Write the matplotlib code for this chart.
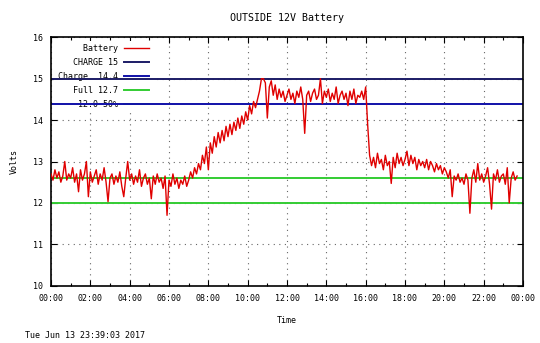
import numpy as np
import matplotlib
matplotlib.use("Agg")
import matplotlib.pyplot as plt
from matplotlib.ticker import MultipleLocator

plt.rcParams["font.family"] = ["DejaVu Sans Mono"]
plt.rcParams["font.size"] = 6

# battery voltage, one reading every 6 minutes from 00:00
battery = [
    12.70, 12.55, 12.80, 12.60, 12.75, 12.50, 12.65, 13.00, 12.55, 12.70,  # 00h
    12.60, 12.85, 12.50, 12.70, 12.27, 12.80, 12.55, 12.70, 13.00, 12.15,  # 01h
    12.75, 12.50, 12.65, 12.80, 12.45, 12.70, 12.55, 12.85, 12.50, 12.03,  # 02h
    12.60, 12.70, 12.45, 12.65, 12.50, 12.75, 12.40, 12.15, 12.60, 13.00,  # 03h
    12.55, 12.70, 12.45, 12.65, 12.50, 12.80, 12.40, 12.60, 12.70, 12.45,  # 04h
    12.60, 12.10, 12.65, 12.45, 12.70, 12.50, 12.60, 12.35, 12.65, 11.70,  # 05h
    12.55, 12.40, 12.70, 12.45, 12.60, 12.35, 12.55, 12.45, 12.65, 12.40,  # 06h
    12.55, 12.75, 12.60, 12.85, 12.70, 12.95, 12.80, 13.15, 12.95, 13.35,  # 07h
    12.80, 13.45, 13.20, 13.60, 13.35, 13.70, 13.45, 13.75, 13.50, 13.85,  # 08h
    13.60, 13.90, 13.65, 13.95, 13.75, 14.05, 13.80, 14.10, 13.90, 14.20,  # 09h
    14.00, 14.35, 14.15, 14.45, 14.30, 14.50, 14.70, 15.00, 15.00, 14.90,  # 10h
    14.05, 14.80, 14.95, 14.60, 14.85, 14.50, 14.75, 14.55, 14.70, 14.45,  # 11h
    14.60, 14.75, 14.50, 14.65, 14.40, 14.70, 14.55, 14.80, 14.50, 13.68,  # 12h
    14.60, 14.70, 14.45, 14.65, 14.75, 14.50, 14.60, 15.00, 14.40, 14.70,  # 13h
    14.55, 14.75, 14.45, 14.65, 14.50, 14.80, 14.40, 14.60, 14.70, 14.50,  # 14h
    14.65, 14.35, 14.70, 14.50, 14.75, 14.40, 14.60, 14.55, 14.70, 14.50,  # 15h
    14.80, 13.90, 13.15, 12.90, 13.10, 12.85, 13.20, 12.95, 13.05, 12.80,  # 16h
    13.15, 12.90, 13.00, 12.47, 13.10, 12.85, 13.20, 12.95, 13.10, 12.90,  # 17h
    13.05, 13.25, 12.90, 13.15, 12.95, 13.10, 12.80, 13.05, 12.90, 13.00,  # 18h
    12.85, 13.05, 12.80, 13.00, 12.90, 12.75, 12.95, 12.80, 12.90, 12.70,  # 19h
    12.85, 12.75, 12.60, 12.80, 12.15, 12.65, 12.55, 12.70, 12.50, 12.60,  # 20h
    12.45, 12.70, 12.55, 11.75, 12.60, 12.80, 12.50, 12.95, 12.55, 12.70,  # 21h
    12.50, 12.65, 12.85, 12.45, 11.85, 12.70, 12.55, 12.80, 12.50, 12.65,  # 22h
    12.70, 12.45, 12.85, 12.00, 12.60, 12.75, 12.55, 12.65,                # 23h
]
hours = np.arange(len(battery)) * 0.1

# reference levels
levels = [15.0, 14.4, 12.6, 12.0]
level_labels = ["CHARGE 15", "Charge  14.4", "Full 12.7", "12.0 50%"]
level_colors = ["#1c1c66", "#1010a8", "#33cc33", "#33cc33"]

xticks = list(range(0, 25, 2))
xtick_labels = [f"{h % 24:02d}:00" for h in xticks]
yticks = [10, 11, 12, 13, 14, 15, 16]

fig = plt.figure(figsize=(5.4, 3.43), dpi=100)
ax = fig.add_axes([51 / 540, 1 - 285.7 / 343, 472 / 540, 248.4 / 343])

width = max(len(s) for s in ["Battery"] + level_labels)
ax.plot(hours, battery, color="#e00000", lw=1.0, zorder=3, label="Battery".rjust(width))
for v, lab, c in zip(levels, level_labels, level_colors):
    ax.axhline(v, color=c, lw=1.4, zorder=2, label=lab.rjust(width))

ax.set_xlim(0, 24)
ax.set_ylim(10, 16)
ax.set_xticks(xticks)
ax.set_xticklabels(xtick_labels)
ax.set_yticks(yticks)
ax.xaxis.set_minor_locator(MultipleLocator(1))
ax.tick_params(direction="in", top=True, right=True, length=4, width=0.8, pad=6)
ax.tick_params(which="minor", direction="in", top=True, length=2.5, width=0.8)
ax.grid(True, linestyle=(0, (1, 4)), color="#666666", lw=0.8)
ax.set_axisbelow(True)
for s in ax.spines.values():
    s.set_linewidth(1.2)

ax.set_title("OUTSIDE 12V Battery", pad=12)
ax.set_xlabel("Time", labelpad=9)
ax.set_ylabel("Volts", labelpad=10)

leg = ax.legend(loc="upper left", bbox_to_anchor=(0.0, 1.0), markerfirst=False,
                frameon=True, facecolor="white", edgecolor="none", framealpha=1,
                handlelength=3.0, handletextpad=0.8, labelspacing=0.6,
                borderaxespad=0.4, fancybox=False)
leg.set_zorder(1)

fig.text(25 / 540, 1 - 336 / 343, "Tue Jun 13 23:39:03 2017", va="center", ha="left")

plt.savefig("out.png", dpi=100)
